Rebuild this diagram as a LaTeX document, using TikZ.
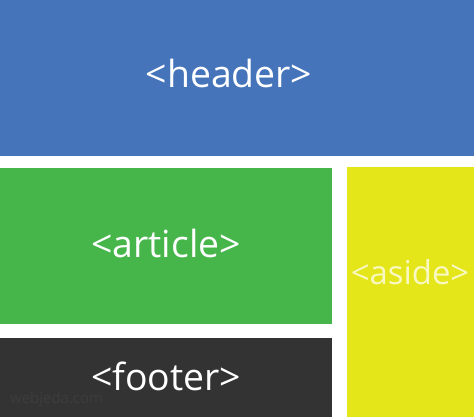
\documentclass[tikz,border=0pt]{standalone}
\usepackage{fontspec}
\setmainfont{Open Sans}
\definecolor{hdr}{HTML}{4574BA}
\definecolor{art}{HTML}{46B64A}
\definecolor{asd}{HTML}{E5E61A}
\definecolor{ftr}{HTML}{333333}
\definecolor{asdtxt}{HTML}{F8F8C0}
\definecolor{wm}{HTML}{3D3D3D}
\tikzset{
  block/.style={inner sep=0pt, outer sep=0pt},
  lbl/.style={text=white, inner sep=0pt, font=\fontsize{37.5}{42}\selectfont},
}
\begin{document}
\begin{tikzpicture}[x=1bp,y=-1bp]
\useasboundingbox (0,0) rectangle (474,417);
\fill[white] (0,0) rectangle (474,417);
\fill[hdr] (0,0) rectangle (474,156);
\fill[art] (0,168) rectangle (332,324);
\fill[asd] (347,167) rectangle (474,417);
\fill[ftr] (0,338) rectangle (332,417);
\node[lbl] (header) at (229,73) {<header>};
\node[lbl] (article) at (166,243) {<article>};
\node[lbl, text=asdtxt, font=\fontsize{33}{37}\selectfont] (aside) at (410,272) {<aside>};
\node[lbl] (footer) at (166,376) {<footer>};
\node[text=wm, inner sep=0pt, font=\fontsize{15}{17}\selectfont, anchor=west] (wmark) at (10,400) {webjeda.com};
\end{tikzpicture}
\end{document}
